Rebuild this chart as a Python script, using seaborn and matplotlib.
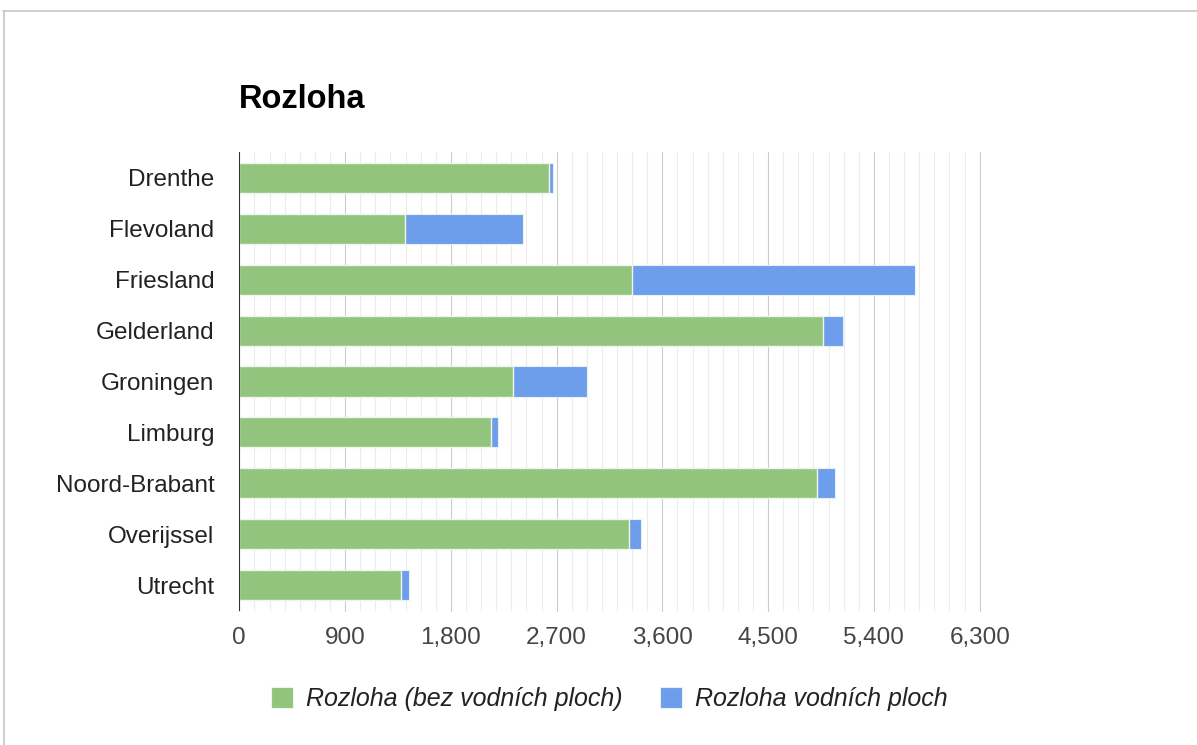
import matplotlib
matplotlib.use("Agg")
import matplotlib.pyplot as plt
from matplotlib.lines import Line2D
from matplotlib.patches import Patch
from matplotlib.ticker import MultipleLocator, FuncFormatter
import seaborn as sns
import pandas as pd

# Provinces and their area in km² (land / water)
provinces = ["Drenthe", "Flevoland", "Friesland", "Gelderland", "Groningen",
             "Limburg", "Noord-Brabant", "Overijssel", "Utrecht"]
land_area = [2633, 1412, 3341, 4964, 2329, 2143, 4919, 3315, 1378]
water_area = [39, 1000, 2408, 175, 627, 62, 150, 103, 64]

series_names = ["Rozloha (bez vodních ploch)", "Rozloha vodních ploch"]

GREEN = "#93c47d"
BLUE = "#6d9eeb"

df = pd.DataFrame({"provincie": provinces, "land": land_area, "water": water_area})
df["total"] = df["land"] + df["water"]

sns.set_theme(style="white")
plt.rcParams["font.family"] = ["Liberation Sans", "DejaVu Sans"]

W, H = 1197, 745
fig = plt.figure(figsize=(W / 100, H / 100), dpi=100)
ax = fig.add_axes([239.3 / W, 1 - 610.7 / H, (979.7 - 239.3) / W, (610.7 - 152.3) / H])

# stacked bars: total (water on the end) underneath, land on top
sns.barplot(data=df, y="provincie", x="total", orient="h", color=BLUE,
            saturation=1, width=0.59, edgecolor="#e8f0fc", linewidth=0.8, ax=ax)
sns.barplot(data=df, y="provincie", x="land", orient="h", color=GREEN,
            saturation=1, width=0.59, edgecolor="#eef6ea", linewidth=1.0, ax=ax)
for p in ax.patches:
    p.set_zorder(3)

ax.set_xlim(0, 6300)
ax.set_ylim(len(provinces) - 0.5, -0.5)
ax.set_xlabel("")
ax.set_ylabel("")

ax.xaxis.set_major_locator(MultipleLocator(900))
ax.xaxis.set_minor_locator(MultipleLocator(900 / 7))
ax.xaxis.set_major_formatter(FuncFormatter(lambda v, _: f"{int(round(v)):,}"))
ax.grid(axis="x", which="major", color="#cccccc", linewidth=0.8, zorder=0)
ax.grid(axis="x", which="minor", color="#ebebeb", linewidth=0.8, zorder=0)
ax.grid(axis="y", visible=False)
ax.set_axisbelow(True)
for gl in ax.get_xgridlines():
    gl.set_clip_on(False)
for s in ax.spines.values():
    s.set_visible(False)
ax.axvline(0, color="#333333", linewidth=1.5, zorder=5)

ax.tick_params(axis="x", which="both", length=0, pad=11.5, labelsize=17.5, labelcolor="#444444")
ax.tick_params(axis="y", length=0, pad=18, labelsize=17.5, labelcolor="#222222")

# title
fig.text(239 / W, 1 - 99 / H, "Rozloha", fontsize=23.5, fontweight="bold",
         color="#000000", ha="left", va="center")

# legend
handles = [Patch(facecolor=GREEN, edgecolor="#eef6ea", linewidth=0.8),
           Patch(facecolor=BLUE, edgecolor="#e8f0fc", linewidth=0.8)]
leg = fig.legend(handles, series_names, loc="center left",
                 bbox_to_anchor=(271 / W, 1 - 699 / H), ncol=2, frameon=False,
                 fontsize=18, handlelength=0.88, handleheight=0.88,
                 handletextpad=0.52, columnspacing=1.5, borderpad=0,
                 borderaxespad=0)
for t in leg.get_texts():
    t.set_fontstyle("italic")
    t.set_color("#222222")

# outer frame lines
fig.add_artist(Line2D([3 / W, 1], [1 - 10.5 / H, 1 - 10.5 / H], color="#c6c6c6",
                      linewidth=1.2, transform=fig.transFigure))
fig.add_artist(Line2D([3.5 / W, 3.5 / W], [0, 1 - 10.5 / H], color="#c6c6c6",
                      linewidth=1.2, transform=fig.transFigure))

fig.savefig("out.png", dpi=100, facecolor="white")
